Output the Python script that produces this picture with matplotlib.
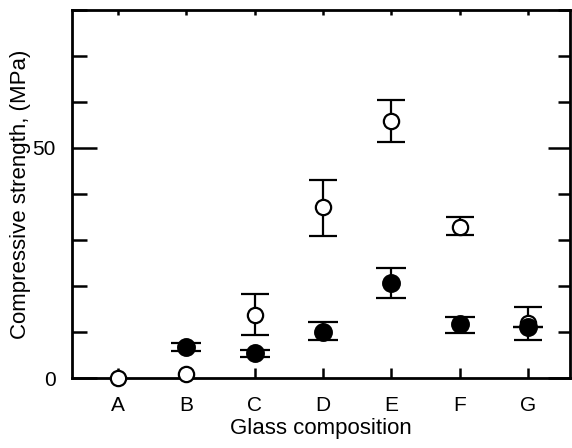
import matplotlib.pyplot as plt
from matplotlib.ticker import MultipleLocator, FixedLocator

plt.rcParams['font.family'] = ['Liberation Sans', 'DejaVu Sans']

# --- DATA ---
glasses = ["A", "B", "C", "D", "E", "F", "G"]

open_mean = [0.0, 1.0, 13.7, 37.2, 55.9, 32.8, 12.0]
open_hi = [1.8, 1.8, 18.3, 43.0, 60.4, 35.0, 15.4]
open_lo = [0.0, 0.2, 9.3, 30.9, 51.3, 31.1, 8.3]

filled_glass = ["B", "C", "D", "E", "F", "G"]
filled_mean = [6.7, 5.4, 10.0, 20.7, 11.7, 11.2]
filled_hi = [7.6, 6.2, 12.2, 23.9, 13.3, 11.2]
filled_lo = [5.9, 4.6, 8.3, 17.4, 9.8, 11.2]

xpos = {g: i + 1 for i, g in enumerate(glasses)}

fig = plt.figure(figsize=(5.72, 4.48), dpi=100)
ax = fig.add_axes([0.126, 0.156, 0.87, 0.822])


def draw_points(names, mean, lo, hi, face, size, cap, z):
    x = [xpos[g] for g in names]
    err = [[m - l for m, l in zip(mean, lo)],
           [h - m for m, h in zip(mean, hi)]]
    ax.errorbar(x, mean, yerr=err, fmt='o', mfc=face, mec='black',
                ecolor='black', ms=size, mew=1.6, elinewidth=1.6,
                capsize=cap, capthick=1.8, zorder=z, clip_on=False)


# A and B open points sit on the axis: bar through the circle, no caps
draw_points(glasses[:2], open_mean[:2], open_lo[:2], open_hi[:2],
            'white', 11, 0, 3)
draw_points(glasses[2:], open_mean[2:], open_lo[2:], open_hi[2:],
            'white', 11, 10, 3)
draw_points(filled_glass, filled_mean, filled_lo, filled_hi,
            'black', 12, 11, 4)

ax.set_xlim(0.33, 7.61)
ax.set_ylim(0, 80)

ax.xaxis.set_major_locator(FixedLocator(range(1, len(glasses) + 1)))
ax.set_xticklabels(glasses)
ax.yaxis.set_major_locator(FixedLocator([0, 50]))
ax.yaxis.set_minor_locator(MultipleLocator(10))

ax.tick_params(which='both', direction='in', top=True, right=True,
               width=1.8, labelsize=15)
ax.tick_params(axis='y', which='major', length=18, pad=12)
ax.tick_params(axis='y', which='minor', length=11)
ax.tick_params(axis='x', which='major', length=7, pad=13)

# shorter ticks on the right and top sides
for t in ax.yaxis.get_major_ticks():
    t.tick2line.set_markersize(16)
for t in ax.yaxis.get_minor_ticks():
    t.tick2line.set_markersize(8.5)
for t in ax.xaxis.get_major_ticks():
    t.tick2line.set_markersize(3.6)

for s in ax.spines.values():
    s.set_linewidth(2)

ax.set_xlabel("Glass composition", fontsize=16, labelpad=2)
ax.set_ylabel("Compressive strength, (MPa)", fontsize=16, labelpad=1)

fig.savefig("out.png", dpi=100)
